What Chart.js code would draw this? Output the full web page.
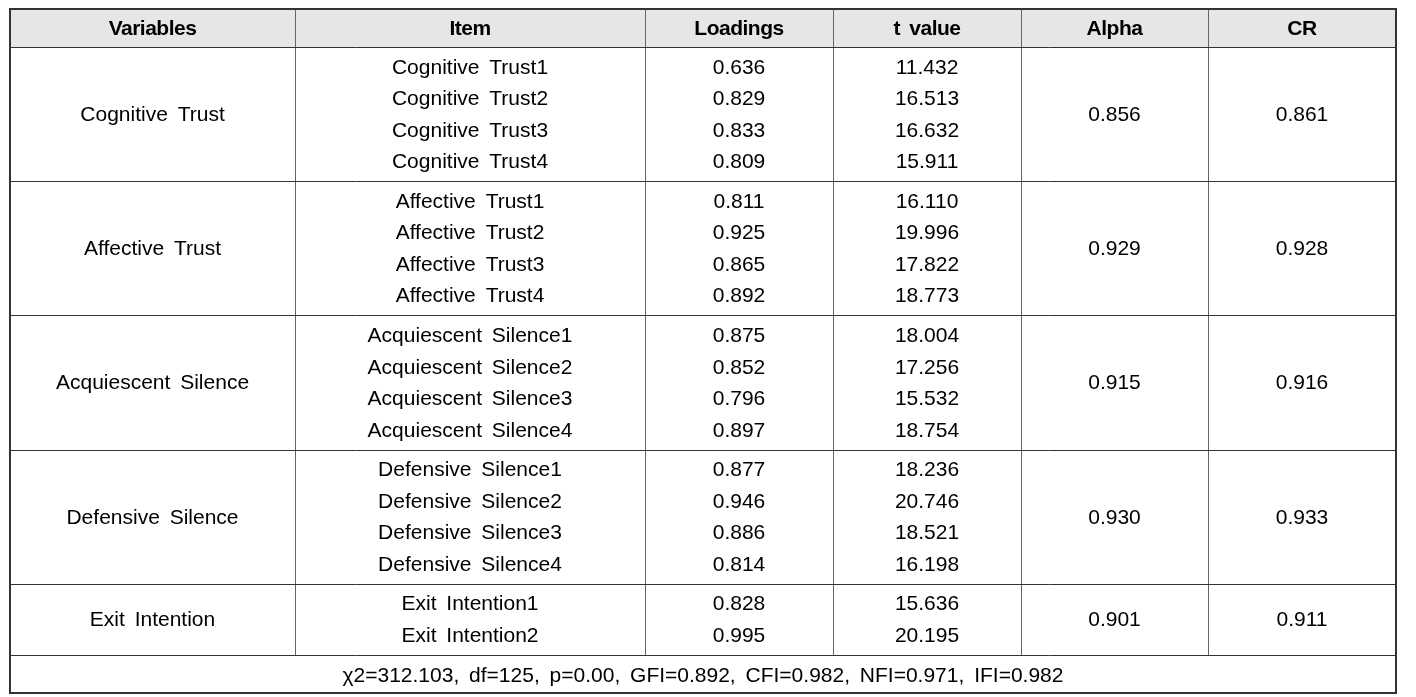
<!DOCTYPE html>
<html>
<head>
<meta charset="utf-8">
<script src="https://cdn.jsdelivr.net/npm/chart.js@4.4.1/dist/chart.umd.min.js"></script>
<style>
  html, body { margin: 0; padding: 0; background: #ffffff; }
  #wrap { width: 1416px; height: 697px; }
</style>
</head>
<body>
<div id="wrap"><canvas id="tableChart" width="1416" height="697"></canvas></div>
<script>
/* ===============================
   TABLE DATA
================================ */
const headers = ["Variables", "Item", "Loadings", "t value", "Alpha", "CR"];
const variables = ["Cognitive Trust", "Affective Trust", "Acquiescent Silence", "Defensive Silence", "Exit Intention"];
const itemNames = [
  "Cognitive Trust1", "Cognitive Trust2", "Cognitive Trust3", "Cognitive Trust4",
  "Affective Trust1", "Affective Trust2", "Affective Trust3", "Affective Trust4",
  "Acquiescent Silence1", "Acquiescent Silence2", "Acquiescent Silence3", "Acquiescent Silence4",
  "Defensive Silence1", "Defensive Silence2", "Defensive Silence3", "Defensive Silence4",
  "Exit Intention1", "Exit Intention2"
];
const itemGroup = [0, 0, 0, 0, 1, 1, 1, 1, 2, 2, 2, 2, 3, 3, 3, 3, 4, 4];
const loadings = [0.636, 0.829, 0.833, 0.809, 0.811, 0.925, 0.865, 0.892,
  0.875, 0.852, 0.796, 0.897, 0.877, 0.946, 0.886, 0.814, 0.828, 0.995];
const tValues = [11.432, 16.513, 16.632, 15.911, 16.110, 19.996, 17.822, 18.773,
  18.004, 17.256, 15.532, 18.754, 18.236, 20.746, 18.521, 16.198, 15.636, 20.195];
const alpha = [0.856, 0.929, 0.915, 0.930, 0.901];
const cr = [0.861, 0.928, 0.916, 0.933, 0.911];
const fitLabels = ["χ2", "df", "p", "GFI", "CFI", "NFI", "IFI"];
const fitValues = ["312.103", "125", "0.00", "0.892", "0.982", "0.971", "0.982"];

/* ===============================
   LAYOUT (scale units)
================================ */
const colWidths = [285, 350, 188, 188, 187, 188];
const HEADER_H = 38;
const ROW_H = 31.5;
const GROUP_PAD = 4;
const FOOTER_H = 38;

const colEdges = [0];
colWidths.forEach(w => colEdges.push(colEdges[colEdges.length - 1] + w));
const TOTAL_W = colEdges[colEdges.length - 1];

const groupSizes = variables.map((_, g) => itemGroup.filter(x => x === g).length);
const groupTops = [];
let yCursor = HEADER_H;
groupSizes.forEach(n => {
  groupTops.push(yCursor);
  yCursor += n * ROW_H + GROUP_PAD * 2;
});
const FOOTER_TOP = yCursor;
const TOTAL_H = FOOTER_TOP + FOOTER_H;

const FONT = '"Liberation Sans", Arial, sans-serif';

/* ===============================
   TABLE DRAWING PLUGIN
================================ */
const tablePlugin = {
  id: "tableDraw",
  afterDraw(chart) {
    const ctx = chart.ctx;
    const xs = chart.scales.x;
    const ys = chart.scales.y;
    const px = v => xs.getPixelForValue(v);
    const py = v => ys.getPixelForValue(v);
    const colMid = c => px((colEdges[c] + colEdges[c + 1]) / 2);
    const crisp = v => Math.round(v) + 0.5;

    ctx.save();

    // header background
    ctx.fillStyle = "#e6e6e6";
    ctx.fillRect(px(0), py(0), px(TOTAL_W) - px(0), py(HEADER_H) - py(0));

    // text
    ctx.fillStyle = "#000000";
    ctx.textAlign = "center";
    ctx.textBaseline = "middle";
    ctx.wordSpacing = "4px";

    ctx.font = "bold 21px " + FONT;
    ctx.letterSpacing = "-0.5px";
    headers.forEach((h, c) => ctx.fillText(h, colMid(c), py(HEADER_H / 2) + 1));
    ctx.letterSpacing = "0px";

    ctx.font = "21px " + FONT;
    variables.forEach((v, g) => {
      const top = groupTops[g];
      const mid = top + (groupSizes[g] * ROW_H + GROUP_PAD * 2) / 2;
      ctx.fillText(v, colMid(0), py(mid) + 1);
      ctx.fillText(alpha[g].toFixed(3), colMid(4), py(mid) + 1);
      ctx.fillText(cr[g].toFixed(3), colMid(5), py(mid) + 1);
    });

    const seen = {};
    itemNames.forEach((name, i) => {
      const g = itemGroup[i];
      const k = seen[g] || 0;
      seen[g] = k + 1;
      const yMid = py(groupTops[g] + GROUP_PAD + (k + 0.5) * ROW_H) + 1;
      ctx.fillText(name, colMid(1), yMid);
      ctx.fillText(loadings[i].toFixed(3), colMid(2), yMid);
      ctx.fillText(tValues[i].toFixed(3), colMid(3), yMid);
    });

    const note = fitLabels.map((l, i) => l + "=" + fitValues[i]).join(", ");
    ctx.fillText(note, px(TOTAL_W / 2), py(FOOTER_TOP + FOOTER_H / 2) + 2);

    // inner vertical lines
    ctx.strokeStyle = "#666666";
    ctx.lineWidth = 1;
    ctx.beginPath();
    for (let c = 1; c < colEdges.length - 1; c++) {
      const x = crisp(px(colEdges[c]));
      ctx.moveTo(x, py(0));
      ctx.lineTo(x, py(FOOTER_TOP));
    }
    ctx.stroke();

    // horizontal separators
    ctx.strokeStyle = "#333333";
    ctx.beginPath();
    [HEADER_H, ...groupTops.slice(1), FOOTER_TOP].forEach(v => {
      const y = crisp(py(v));
      ctx.moveTo(px(0), y);
      ctx.lineTo(px(TOTAL_W), y);
    });
    ctx.stroke();

    // outer border
    ctx.strokeStyle = "#333333";
    ctx.lineWidth = 2;
    ctx.strokeRect(px(0), py(0), px(TOTAL_W) - px(0), py(TOTAL_H) - py(0));

    ctx.restore();
  }
};

/* ===============================
   CHART SETUP
================================ */
new Chart(document.getElementById("tableChart"), {
  type: "scatter",
  data: { datasets: [] },
  options: {
    responsive: false,
    animation: false,
    events: [],
    layout: { padding: { left: 10, right: 20, top: 9, bottom: 4 } },
    plugins: {
      legend: { display: false },
      tooltip: { enabled: false }
    },
    scales: {
      x: { type: "linear", display: false, min: 0, max: TOTAL_W },
      y: { type: "linear", display: false, reverse: true, min: 0, max: TOTAL_H }
    }
  },
  plugins: [tablePlugin]
});
</script>
</body>
</html>
